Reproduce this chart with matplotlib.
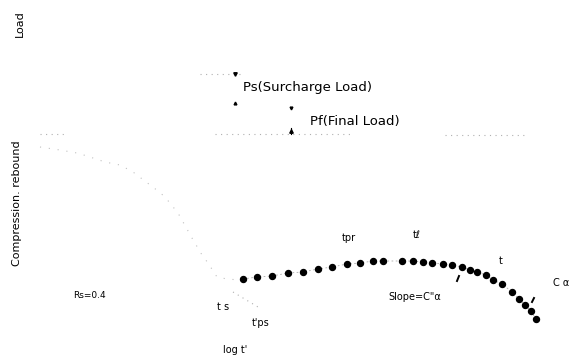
import matplotlib.pyplot as plt

# measured curve: log t' (x) vs compression (y, downwards), in picture units
dot_x = [243, 257, 272, 288, 303, 318, 332, 347, 360, 373, 383, 402, 413, 423,
         432, 443, 452, 462, 470, 477, 486, 493, 502, 512, 519, 525, 531, 536]
dot_y = [279, 277, 276, 273, 272, 269, 267, 264, 263, 261, 261, 261, 261, 262,
         263, 264, 265, 267, 270, 272, 275, 280, 284, 292, 299, 305, 311, 319]

# faint primary curve leading into the dots
pre_x = [40, 60, 77, 87, 105, 120, 133, 158, 165, 178, 192, 202, 208, 217, 227, 240]
pre_y = [147, 150, 153, 156, 162, 165, 172, 191, 197, 213, 238, 255, 263, 277, 279, 280]

# final load line, broken into visible pieces
final_segs = [([40, 67], [134, 134]), ([215, 352], [134, 134]), ([445, 528], [135, 135])]
surch_x = [200, 243]
surch_y = [74, 74]

# tangent near t'ps
tan_x = [233, 258]
tan_y = [292, 307]

fig = plt.figure(figsize=(5.7, 3.6), dpi=100)
ax = fig.add_axes([0, 0, 1, 1])
ax.set_xlim(0, 570)
ax.set_ylim(360, 0)
ax.axis("off")

faint = dict(color="#b0b0b0", linestyle=(0, (1, 4)), linewidth=0.8)
ax.plot(pre_x, pre_y, color="#c0c0c0", linestyle=(0, (1, 7)), linewidth=0.8)
for sx, sy in final_segs:
    ax.plot(sx, sy, **faint)
ax.plot(surch_x, surch_y, **faint)
ax.plot(tan_x, tan_y, **faint)
ax.plot(dot_x, dot_y, color="#aaaaaa", linestyle=(0, (2, 3)), linewidth=0.6)
ax.plot(dot_x, dot_y, "o", color="black", markersize=4.3, linestyle="none")

# small arrow ticks
ax.plot([235], [74], marker="v", color="black", markersize=2.5)
ax.plot([235], [103], marker="^", color="black", markersize=2)
ax.plot([291], [108], marker="v", color="black", markersize=2)
ax.plot([291], [131], marker="^", color="black", markersize=2.5)
ax.plot([291, 291], [128, 134], color="black", linewidth=0.8)
ax.plot([457, 459], [281, 276], color="black", linewidth=1.4)
ax.plot([532, 534], [302, 298], color="black", linewidth=1.4)

txt = dict(fontsize=7, color="black", va="center")
ax.text(20, 24, "Load", rotation=90, ha="center", fontsize=8, va="center")
ax.text(17, 203, "Compression. rebound", rotation=90, ha="center", fontsize=8, va="center")
ax.text(243, 88, "Ps(Surcharge Load)", ha="left", fontsize=9.5, va="center")
ax.text(310, 121, "Pf(Final Load)", ha="left", fontsize=9.5, va="center")
ax.text(73, 296, "Rs=0.4", ha="left", fontsize=6.5, va="center")
ax.text(217, 307, "t s", ha="left", **txt)
ax.text(252, 323, "t'ps", ha="left", **txt)
ax.text(223, 350, "log t'", ha="left", **txt)
ax.text(342, 238, "tpr", ha="left", **txt)
ax.text(413, 235, "tℓ", ha="left", **txt)
ax.text(388, 297, "Slope=C\"α", ha="left", **txt)
ax.text(499, 261, "t", ha="left", **txt)
ax.text(553, 283, "C α", ha="left", **txt)

fig.savefig("out.png", dpi=100)
